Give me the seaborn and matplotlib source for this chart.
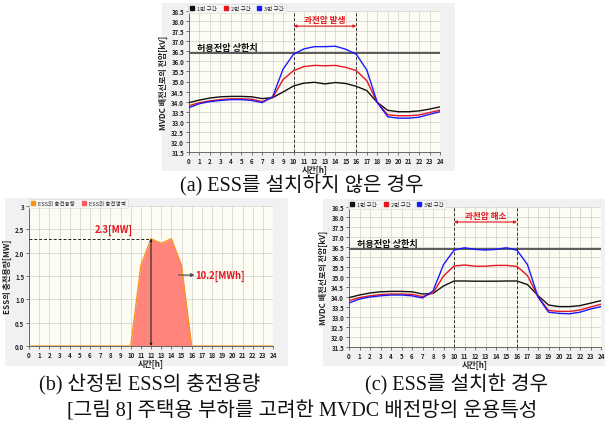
import numpy as np
import pandas as pd
import matplotlib
matplotlib.use("Agg")
import matplotlib.pyplot as plt
from matplotlib.patches import Rectangle
from matplotlib.lines import Line2D
import seaborn as sns

# ---------------- data ----------------
hours = list(range(25))

# (a) without ESS
a_sec1 = [33.95, 34.08, 34.18, 34.24, 34.26, 34.26, 34.24, 34.15, 34.2, 34.48, 34.78, 34.92, 34.96, 34.88, 34.95, 34.9, 34.76,
          34.55, 33.96, 33.57, 33.5, 33.5, 33.54, 33.63, 33.74]
a_sec2 = [33.8, 33.95, 34.04, 34.1, 34.14, 34.14, 34.12, 34.0, 34.2, 35.1, 35.54, 35.74, 35.8, 35.78, 35.8, 35.7, 35.54,
          35.04, 33.96, 33.35, 33.3, 33.3, 33.34, 33.46, 33.58]
a_sec3 = [33.7, 33.9, 34.0, 34.06, 34.1, 34.1, 34.06, 33.95, 34.25, 35.62, 36.36, 36.62, 36.73, 36.73, 36.75, 36.6, 36.35,
          35.57, 33.96, 33.25, 33.18, 33.18, 33.23, 33.37, 33.5]

# (b) ESS charge capacity
ess_mw = [0, 0, 0, 0, 0, 0, 0, 0, 0, 0, 0, 1.73, 2.3, 2.2, 2.3, 1.73, 0, 0, 0, 0, 0, 0, 0, 0, 0]

# (c) with ESS
c_sec1 = [33.97, 34.1, 34.2, 34.26, 34.28, 34.28, 34.26, 34.15, 34.18, 34.55, 34.8, 34.8, 34.79, 34.79, 34.79, 34.8, 34.8,
          34.62, 34.07, 33.6, 33.52, 33.52, 33.57, 33.69, 33.82]
c_sec2 = [33.82, 33.97, 34.06, 34.12, 34.15, 34.15, 34.13, 34.02, 34.2, 35.05, 35.55, 35.6, 35.54, 35.54, 35.58, 35.58, 35.53,
          35.07, 34.02, 33.33, 33.28, 33.28, 33.35, 33.5, 33.64]
c_sec3 = [33.7, 33.9, 34.0, 34.06, 34.1, 34.1, 34.06, 33.95, 34.3, 35.62, 36.34, 36.46, 36.38, 36.35, 36.38, 36.46, 36.34,
          35.62, 34.0, 33.24, 33.18, 33.16, 33.24, 33.4, 33.52]

limit_kv = 36.4
series_labels = ["1번 구간", "2번 구간", "3번 구간"]
series_colors = ["#111111", "#e8141e", "#1a1aff"]
ess_labels = ["ESS의 충전용량", "ESS의 충전영역"]
volt_yticks = [31.5 + 0.5 * i for i in range(15)]
ess_yticks = [0, 0.5, 1.0, 1.5, 2.0, 2.5, 3]
ess_ytick_labels = ["0.0", "0.5", "1.0", "1.5", "2.0", "2.5", "3"]

# ---------------- style ----------------
sns.set_theme(style="white")
plt.rcParams['font.family'] = ['Noto Sans CJK KR', 'DejaVu Sans']
plt.rcParams['axes.unicode_minus'] = False

W, H = 605, 427
fig = plt.figure(figsize=(W / 100, H / 100), dpi=100)
fig.patch.set_facecolor("white")

def px_axes(l, t, r, b):
    return fig.add_axes([l / W, 1 - b / H, (r - l) / W, (b - t) / H])

def panel(l, t, r, b):
    fig.patches.append(Rectangle((l / W, 1 - b / H), (r - l) / W, (b - t) / H,
                                 transform=fig.transFigure, facecolor="#f1f1f1",
                                 edgecolor="none", zorder=-10))

PLOT_BG = "#fcfcf2"
GRID = "#cfcfcf"
TICK_FS = 4.4

def style_axes(ax, ymin, ymax, yticks, ylabels, ylabel):
    ax.set_facecolor(PLOT_BG)
    ax.set_xlim(0, 24)
    ax.set_ylim(ymin, ymax)
    ax.set_xticks(hours)
    ax.set_xticklabels([str(h) for h in hours], fontsize=TICK_FS, fontweight="bold", color="#222222")
    ax.set_yticks(yticks)
    ax.set_yticklabels(ylabels, fontsize=TICK_FS, fontweight="bold", color="#222222")
    ax.tick_params(axis="both", length=2, width=0.5, pad=1.5, color="#444444")
    ax.tick_params(axis="x", bottom=True)
    ax.tick_params(axis="y", left=True)
    ax.grid(True, color=GRID, linewidth=0.5)
    for s in ["top", "right"]:
        ax.spines[s].set_visible(False)
    for s in ["left", "bottom"]:
        ax.spines[s].set_color("#555555")
        ax.spines[s].set_linewidth(0.6)
    ax.set_xlabel("시간[h]", fontsize=5.8, fontweight="bold", labelpad=1, color="#222222")
    ax.set_ylabel(ylabel, fontsize=5.8, fontweight="bold", labelpad=2, color="#222222")

def make_legend(ax, handles, labels, ncol, x0):
    leg = ax.legend(handles, labels, ncol=ncol, loc="lower left", bbox_to_anchor=(x0, 0.985),
                    fontsize=4, frameon=True, handlelength=0.8, handletextpad=0.5,
                    columnspacing=1.2, borderpad=0.35, borderaxespad=0)
    leg.get_frame().set_edgecolor("#d8d8d8")
    leg.get_frame().set_facecolor("#f7f7f7")
    leg.get_frame().set_linewidth(0.5)
    leg.get_frame().set_boxstyle("square", pad=0)
    return leg

def volt_chart(ax, s1, s2, s3, span_text):
    df = pd.DataFrame({"hour": hours * 3,
                       "kv": s1 + s2 + s3,
                       "sec": [series_labels[0]] * 25 + [series_labels[1]] * 25 + [series_labels[2]] * 25})
    sns.lineplot(data=df, x="hour", y="kv", hue="sec", palette=series_colors, ax=ax,
                 linewidth=1.0, legend=False, zorder=3)
    ax.axhline(limit_kv, color="#4d4d4d", linewidth=1.3, zorder=2)
    for xv in (10, 16):
        ax.axvline(xv, color="#333333", linewidth=0.7, linestyle=(0, (3, 2)), zorder=2)
    ax.text(0.8, limit_kv + 0.06, "허용전압 상한치", fontsize=6.6, fontweight="bold",
            color="#111111", ha="left", va="bottom")
    ax.annotate("", xy=(10, 37.75), xytext=(16, 37.75),
                arrowprops=dict(arrowstyle="<|-|>", color="#e8141e", lw=0.8,
                                mutation_scale=4, shrinkA=0, shrinkB=0))
    ax.text(13, 37.86, span_text, fontsize=6.2, fontweight="bold", color="#e8141e",
            ha="center", va="bottom")
    style_axes(ax, 31.5, 38.5, volt_yticks, [f"{v:.1f}" for v in volt_yticks],
               "MVDC 배전선로의 전압[kV]")
    handles = [Line2D([], [], marker="s", linestyle="none", color=c, markersize=2.5)
               for c in series_colors]
    make_legend(ax, handles, series_labels, 3, -0.005)

# ---------------- panels ----------------
panel(162, 4, 455, 172)
panel(5, 199, 288, 367)
panel(323, 200, 605, 367)

# (a)
ax_a = px_axes(189, 12, 440, 153)
volt_chart(ax_a, a_sec1, a_sec2, a_sec3, "과전압 발생")

# (b)
ax_b = px_axes(29, 207, 273, 347)
ax_b.fill_between(hours, ess_mw, 0, color="#ff847c", zorder=2, linewidth=0)
sns.lineplot(x=hours, y=ess_mw, ax=ax_b, color="#f7941d", linewidth=0.9, zorder=3)
ax_b.plot([0, 12], [2.3, 2.3], color="#222222", linewidth=0.7, linestyle=(0, (3, 2)), zorder=4)
ax_b.annotate("", xy=(12, 0.0), xytext=(12, 2.3),
              arrowprops=dict(arrowstyle="<|-|>", color="#222222", lw=0.8, mutation_scale=3,
                              shrinkA=0, shrinkB=0), zorder=5)
ax_b.text(8.3, 2.38, "2.3[MW]", fontsize=6.8, fontweight="bold", color="#e8141e",
          ha="center", va="bottom")
ax_b.annotate("", xy=(16.3, 1.52), xytext=(14.7, 1.52),
              arrowprops=dict(arrowstyle="-|>", color="#555555", lw=0.9, mutation_scale=5,
                              shrinkA=0, shrinkB=0), zorder=5)
ax_b.text(16.4, 1.52, "10.2[MWh]", fontsize=6.8, fontweight="bold", color="#e8141e",
          ha="left", va="center")
style_axes(ax_b, 0, 3, ess_yticks, ess_ytick_labels, "ESS의 충전용량[MW]")
hb = [Line2D([], [], marker="s", linestyle="none", color="#f7941d", markersize=2.5),
      Line2D([], [], marker="s", linestyle="none", color="#ff5f5f", markersize=2.5)]
make_legend(ax_b, hb, ess_labels, 2, 0.0)

# (c)
ax_c = px_axes(349, 208, 601, 348)
volt_chart(ax_c, c_sec1, c_sec2, c_sec3, "과전압 해소")

# ---------------- captions ----------------
cap_font = ['Liberation Serif', 'Noto Sans CJK KR']
CAP_FS = 14.5
fig.text(302 / W, 1 - 186 / H, "(a) ESS를 설치하지 않은 경우", fontsize=CAP_FS, family=cap_font,
         ha="center", va="center", color="#111111")
fig.text(150 / W, 1 - 385 / H, "(b) 산정된 ESS의 충전용량", fontsize=CAP_FS, family=cap_font,
         ha="center", va="center", color="#111111")
fig.text(457 / W, 1 - 385 / H, "(c) ESS를 설치한 경우", fontsize=CAP_FS, family=cap_font,
         ha="center", va="center", color="#111111")
fig.text(302 / W, 1 - 410 / H, "[그림 8] 주택용 부하를 고려한 MVDC 배전망의 운용특성", fontsize=CAP_FS,
         family=cap_font, ha="center", va="center", color="#111111")

fig.savefig("out.png", dpi=100)
